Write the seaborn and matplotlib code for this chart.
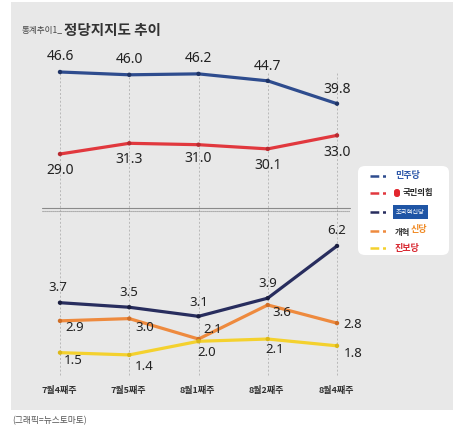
import matplotlib
matplotlib.use("Agg")
import matplotlib.pyplot as plt
import seaborn as sns
import pandas as pd
from matplotlib.patches import FancyBboxPatch, Rectangle
from matplotlib.lines import Line2D

# ---------------- data ----------------
weeks = ["7월4째주", "7월5째주", "8월1째주", "8월2째주", "8월4째주"]
parties = ["민주당", "국민의힘", "조국혁신당", "개혁신당", "진보당"]
minju = [46.6, 46.0, 46.2, 44.7, 39.8]
ppp = [29.0, 31.3, 31.0, 30.1, 33.0]
rebuild = [3.7, 3.5, 3.1, 3.9, 6.2]
reform = [2.9, 3.0, 2.1, 3.6, 2.8]
progressive = [1.5, 1.4, 2.0, 2.1, 1.8]

colors = {"민주당": "#2e4c8e", "국민의힘": "#e1383e", "조국혁신당": "#282d5e",
          "개혁신당": "#ee8a3e", "진보당": "#f4d12e"}
dot_colors = {"민주당": "#1f3466", "국민의힘": "#b82a30", "조국혁신당": "#1a1e40",
              "개혁신당": "#d06e26", "진보당": "#dcb818"}

series = {"민주당": minju, "국민의힘": ppp, "조국혁신당": rebuild,
          "개혁신당": reform, "진보당": progressive}
rows = []
for p in parties:
    for i, v in enumerate(series[p]):
        rows.append({"party": p, "x": i, "week": weeks[i], "value": v})
df = pd.DataFrame(rows)

sns.set_style("white")
plt.rcParams["font.family"] = ["Noto Sans CJK KR", "DejaVu Sans"]

W, H = 464, 425
fig = plt.figure(figsize=(W / 100, H / 100), dpi=100, facecolor="white")

def fx(px):
    return px / W

def fy(py):
    return 1 - py / H

# gray panel
fig.add_artist(Rectangle((fx(11), fy(410)), fx(453) - fx(11), (410 - 2) / H,
                         transform=fig.transFigure, facecolor="#e8e8e8",
                         edgecolor="none", zorder=0))

ax_left, ax_right = 42, 350
x0 = -18 / 69.25
x1 = x0 + 308 / 69.25

top_px, mid_px, bot_px = 72, 215, 375
ax_top = fig.add_axes([fx(ax_left), fy(mid_px), (ax_right - ax_left) / W, (mid_px - top_px) / H])
ax_bot = fig.add_axes([fx(ax_left), fy(bot_px), (ax_right - ax_left) / W, (bot_px - mid_px) / H])

ax_top.set_ylim(46.6 - (mid_px - 72) / 4.66, 46.6)
ax_bot.set_ylim(3.7 - (bot_px - 302.7) / 22.7, 3.7 + (302.7 - mid_px) / 22.7)

for ax, plist in ((ax_top, ["민주당", "국민의힘"]), (ax_bot, ["조국혁신당", "개혁신당", "진보당"])):
    ax.set_facecolor("none")
    for i in range(len(weeks)):
        ax.axvline(i, color="#b8b8b8", lw=0.7, ls=(0, (2, 2)), zorder=1)
    sub = df[df.party.isin(plist)]
    sns.lineplot(data=sub, x="x", y="value", hue="party", hue_order=plist,
                 palette=colors, lw=2.3, legend=False, ax=ax, zorder=3)
    sns.scatterplot(data=sub, x="x", y="value", hue="party", hue_order=plist,
                    palette=dot_colors, s=10, linewidth=0, legend=False, ax=ax, zorder=4)
    for art in ax.lines + ax.collections:
        art.set_clip_on(False)
    ax.set_xlim(x0, x1)
    ax.set_xlabel("")
    ax.set_ylabel("")
    ax.set_xticks([])
    ax.set_yticks([])
    for s in ax.spines.values():
        s.set_visible(False)

def lab(ax, values, offsets, size, weight):
    for i, (v, (dx, dy)) in enumerate(zip(values, offsets)):
        ax.annotate(f"{v:.1f}", (i, v), xytext=(dx, dy), textcoords="offset pixels",
                    ha="center", va="center", fontsize=size, fontweight=weight,
                    color="#222222", family=["Noto Sans", "DejaVu Sans"], zorder=6)

lab(ax_top, minju, [(0, 15), (0, 15), (0, 15), (0, 14), (0, 14)], 10, "semibold")
lab(ax_top, ppp, [(0, -16), (0, -16), (0, -14), (0, -17), (0, -17)], 10, "medium")
lab(ax_bot, rebuild, [(-2, 15), (0, 15), (0, 14), (0, 15), (0, 15)], 9.5, "medium")
lab(ax_bot, reform, [(15, -7), (15, -9), (14, 10), (14, -8), (16, -1)], 9.5, "medium")
lab(ax_bot, progressive, [(13, -8), (15, -12), (8, -11), (7, -10), (16, -8)], 9.5, "medium")

for i, w in enumerate(weeks):
    ax_bot.annotate(w, (i, 0), xycoords=("data", "axes fraction"), xytext=(-1, -15),
                    textcoords="offset pixels", ha="center", va="center",
                    fontsize=6.5, fontweight="bold", color="#333333")

# axis break lines
fig.add_artist(Line2D([fx(42), fx(350)], [fy(207.5), fy(207.5)], transform=fig.transFigure,
                      color="#8a8a8a", lw=0.8))
fig.add_artist(Line2D([fx(42), fx(350)], [fy(211), fy(211)], transform=fig.transFigure,
                      color="#8a8a8a", lw=0.8, ls=(0, (1, 0.8))))

# title
fig.text(fx(22), fy(31), "통계추이1_", fontsize=6.2, color="#444444", va="center", ha="left")
fig.text(fx(64), fy(30), "정당지지도 추이", fontsize=10.5, fontweight="bold",
         color="#333333", va="center", ha="left")

# caption
fig.text(fx(12), fy(421), "(그래픽=뉴스토마토)", fontsize=6.3, color="#555555",
         va="center", ha="left")

# legend box
fig.add_artist(FancyBboxPatch((fx(358), fy(255)), fx(449) - fx(358), (255 - 166) / H,
                              boxstyle="round,pad=0,rounding_size=0.015",
                              transform=fig.transFigure, facecolor="white",
                              edgecolor="none", zorder=2))
leg_y = [176, 193, 212, 231, 248]
for p, yy in zip(parties, leg_y):
    fig.add_artist(Line2D([fx(370), fx(389)], [fy(yy), fy(yy)], transform=fig.transFigure,
                          color=colors[p], lw=1.8, ls=(0, (3.5, 1.5, 1.2, 1.5)), zorder=3))

fig.text(fx(395), fy(176), "민주당", fontsize=6.5, fontweight="bold", color="#2a55a8",
         va="center", ha="left", zorder=4)
fig.add_artist(FancyBboxPatch((fx(394), fy(197)), fx(400) - fx(394), 8 / H,
                              boxstyle="round,pad=0,rounding_size=0.006",
                              transform=fig.transFigure, facecolor="#e2262e",
                              edgecolor="none", zorder=4))
fig.text(fx(403), fy(193), "국민의힘", fontsize=6, fontweight="bold", color="#222222",
         va="center", ha="left", zorder=4)
fig.text(fx(396), fy(212), "조국혁신당", fontsize=4.5, color="white", va="center", ha="left",
         zorder=5, bbox=dict(boxstyle="square,pad=0.55", facecolor="#1f55a5", edgecolor="none"))
fig.text(fx(395), fy(232), "개혁", fontsize=6, fontweight="bold", color="#333333",
         va="center", ha="left", zorder=4)
fig.text(fx(411), fy(230), "신당", fontsize=6.5, fontweight="bold", color="#f08a24",
         va="center", ha="left", zorder=4)
fig.text(fx(395), fy(248), "진보당", fontsize=6.5, fontweight="bold", color="#d8262f",
         va="center", ha="left", zorder=4)

fig.savefig("out.png", dpi=100, facecolor="white")
